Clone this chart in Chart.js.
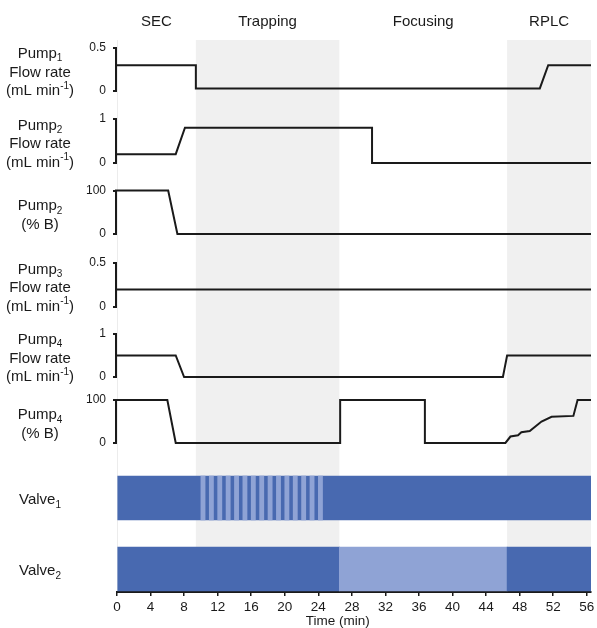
<!DOCTYPE html>
<html>
<head>
<meta charset="utf-8">
<script src="https://cdn.jsdelivr.net/npm/chart.js@4.4.1/dist/chart.umd.min.js"></script>
<style>html,body{margin:0;padding:0;background:#fff;}canvas{display:block;}</style>
</head>
<body>
<canvas id="c" width="597" height="628"></canvas>
<script>
// ---------------- DATA ----------------
const phaseNames = ['SEC', 'Trapping', 'Focusing', 'RPLC'];
const phaseStart = [0, 9.4, 26.5, 46.5];
const phaseEnd = [9.4, 26.5, 46.5, 56.5];
const phaseShaded = [false, true, false, true];

const xTicks = [0, 4, 8, 12, 16, 20, 24, 28, 32, 36, 40, 44, 48, 52, 56];

const pump1FlowTime = [0, 9.4, 9.4, 50.4, 51.4, 56.5];
const pump1FlowRate = [0.3, 0.3, 0.03, 0.03, 0.3, 0.3];
const pump1Ticks = [0, 0.5];

const pump2FlowTime = [0, 7.0, 8.1, 30.4, 30.4, 56.5];
const pump2FlowRate = [0.2, 0.2, 0.8, 0.8, 0, 0];
const pump2FlowTicks = [0, 1];

const pump2BTime = [0, 6.1, 7.2, 56.5];
const pump2B = [100, 100, 0, 0];
const pump2BTicks = [0, 100];

const pump3FlowTime = [0, 56.5];
const pump3FlowRate = [0.2, 0.2];
const pump3Ticks = [0, 0.5];

const pump4FlowTime = [0, 7.0, 8.0, 46.0, 46.5, 56.5];
const pump4FlowRate = [0.5, 0.5, 0, 0, 0.5, 0.5];
const pump4FlowTicks = [0, 1];

const pump4BTime = [0, 6.0, 7.0, 26.6, 26.6, 36.7, 36.7, 46.3, 46.9, 47.8, 48.2, 49.2, 50.6, 51.8, 54.4, 54.9, 56.5];
const pump4B = [100, 100, 0, 0, 100, 100, 0, 0, 15, 18, 25, 28, 50, 61, 63, 100, 100];
const pump4BTicks = [0, 100];

// Valve 1: base position over whole run, switched in short pulses during trapping
const valve1BaseStart = [0];
const valve1BaseEnd = [56.5];
const valve1PulseStart = [10, 11, 12, 13, 14, 15, 16, 17, 18, 19, 20, 21, 22, 23, 24];
const valve1PulseEnd = [10.5, 11.5, 12.5, 13.5, 14.5, 15.5, 16.5, 17.5, 18.5, 19.5, 20.5, 21.5, 22.5, 23.5, 24.5];

// Valve 2: position A / B / A
const valve2Start = [0, 26.5, 46.5];
const valve2End = [26.5, 46.5, 56.5];
const valve2Position = ['A', 'B', 'A'];

// ---------------- STYLE ----------------
const FONT = "'Liberation Sans', Arial, Helvetica, sans-serif";
const INK = '#1a1a1a';
const SHADE = '#f0f0f0';
const BLUE_DARK = '#4869b0';
const BLUE_LIGHT = '#8fa3d5';

function pts(t, v) { return t.map((x, i) => ({ x: x, y: v[i] })); }

function lineSet(t, v, axisId) {
  return {
    type: 'line', data: pts(t, v), xAxisID: 'x', yAxisID: axisId,
    borderColor: INK, borderWidth: 2, pointRadius: 0, fill: false, tension: 0,
    borderJoinStyle: 'miter', borderCapStyle: 'butt'
  };
}

function yAxis(weight, stackWeight, min, max, tickVals) {
  const hasTicks = tickVals.length > 0;
  return {
    type: 'linear', axis: 'y', position: 'left', stack: 'panels', stackWeight: stackWeight, weight: weight,
    min: min, max: max, offset: false,
    afterBuildTicks: s => { s.ticks = tickVals.map(v => ({ value: v })); },
    afterFit: s => { s.width = 117; },
    grid: { display: hasTicks, drawOnChartArea: false, drawTicks: true, tickLength: 4, color: INK, lineWidth: 2, offset: false },
    border: { display: false },
    ticks: { display: hasTicks, padding: 7, color: INK, font: { family: FONT, size: 12 }, callback: v => String(v) },
    _tickVals: tickVals
  };
}

const valve1Data = [];
const valve1Colors = [];
valve1BaseStart.forEach((s, i) => { valve1Data.push({ x: [s, valve1BaseEnd[i]], y: 0 }); valve1Colors.push(BLUE_DARK); });
valve1PulseStart.forEach((s, i) => { valve1Data.push({ x: [s, valve1PulseEnd[i]], y: 0 }); valve1Colors.push(BLUE_LIGHT); });

const valve2Data = valve2Start.map((s, i) => ({ x: [s, valve2End[i]], y: 0 }));
const valve2Colors = valve2Position.map(p => p === 'A' ? BLUE_DARK : BLUE_LIGHT);

function barSet(data, colors, axisId) {
  return {
    type: 'bar', indexAxis: 'y', xAxisID: 'x', yAxisID: axisId, data: data,
    backgroundColor: colors, borderWidth: 0, barThickness: 44, grouped: false
  };
}

const panelLabels = [
  { axis: 'yP1', lines: [[['Pump', 'n'], ['1', 'sub']], [['Flow rate', 'n']], [['(mL min', 'n'], ['-1', 'sup'], [')', 'n']]] },
  { axis: 'yP2F', lines: [[['Pump', 'n'], ['2', 'sub']], [['Flow rate', 'n']], [['(mL min', 'n'], ['-1', 'sup'], [')', 'n']]] },
  { axis: 'yP2B', lines: [[['Pump', 'n'], ['2', 'sub']], [['(% B)', 'n']]] },
  { axis: 'yP3', lines: [[['Pump', 'n'], ['3', 'sub']], [['Flow rate', 'n']], [['(mL min', 'n'], ['-1', 'sup'], [')', 'n']]] },
  { axis: 'yP4F', lines: [[['Pump', 'n'], ['4', 'sub']], [['Flow rate', 'n']], [['(mL min', 'n'], ['-1', 'sup'], [')', 'n']]] },
  { axis: 'yP4B', lines: [[['Pump', 'n'], ['4', 'sub']], [['(% B)', 'n']]] },
  { axis: 'yV1', lines: [[['Valve', 'n'], ['1', 'sub']]] },
  { axis: 'yV2', lines: [[['Valve', 'n'], ['2', 'sub']]] }
];

function fontFor(kind, size) {
  const s = kind === 'n' ? size : Math.round(size * 0.66);
  return s + 'px ' + FONT;
}

function drawRich(ctx, segs, cx, cy, size) {
  const widths = [];
  let total = 0;
  segs.forEach(([t, k]) => { ctx.font = fontFor(k, size); const w = ctx.measureText(t).width; widths.push(w); total += w; });
  let x = cx - total / 2;
  segs.forEach(([t, k], i) => {
    ctx.font = fontFor(k, size);
    const dy = k === 'sub' ? size * 0.32 : (k === 'sup' ? -size * 0.33 : 0);
    ctx.fillText(t, x, cy + dy);
    x += widths[i];
  });
}

const decorPlugin = {
  id: 'decor',
  beforeDraw(chart) {
    const { ctx, chartArea } = chart;
    const xs = chart.scales.x;
    ctx.save();
    ctx.fillStyle = '#fff';
    ctx.fillRect(0, 0, chart.width, chart.height);
    ctx.fillStyle = SHADE;
    phaseStart.forEach((s, i) => {
      if (!phaseShaded[i]) return;
      const x0 = xs.getPixelForValue(s), x1 = xs.getPixelForValue(phaseEnd[i]);
      ctx.fillRect(x0, chartArea.top, x1 - x0, chartArea.bottom - chartArea.top);
    });
    ctx.strokeStyle = '#ececec';
    ctx.lineWidth = 1;
    ctx.beginPath();
    ctx.moveTo(chartArea.left + 0.5, chartArea.top);
    ctx.lineTo(chartArea.left + 0.5, chartArea.bottom);
    ctx.stroke();
    ctx.restore();
  },
  afterDraw(chart) {
    const { ctx, chartArea } = chart;
    const xs = chart.scales.x;
    ctx.save();
    // y-axis brackets
    ctx.strokeStyle = INK;
    ctx.lineWidth = 2;
    ctx.lineCap = 'butt';
    Object.keys(chart.scales).forEach(id => {
      const s = chart.scales[id];
      const tv = s.options._tickVals;
      if (!tv || tv.length < 2) return;
      const y0 = s.getPixelForValue(tv[0]);
      const y1 = s.getPixelForValue(tv[tv.length - 1]);
      ctx.beginPath();
      ctx.moveTo(chartArea.left - 1, y0 + 1);
      ctx.lineTo(chartArea.left - 1, y1 - 1);
      ctx.stroke();
    });
    // phase headers
    ctx.fillStyle = INK;
    ctx.textAlign = 'center';
    ctx.textBaseline = 'middle';
    ctx.font = '15px ' + FONT;
    phaseNames.forEach((n, i) => {
      const cx = xs.getPixelForValue((phaseStart[i] + phaseEnd[i]) / 2);
      ctx.fillText(n, cx, 22);
    });
    // panel labels
    ctx.textAlign = 'left';
    panelLabels.forEach(p => {
      const s = chart.scales[p.axis];
      const tv = s.options._tickVals;
      let cy;
      if (tv.length >= 2) {
        cy = (s.getPixelForValue(tv[0]) + s.getPixelForValue(tv[tv.length - 1])) / 2 + 3;
      } else {
        cy = s.getPixelForValue(0) + 2;
      }
      const n = p.lines.length;
      const lh = 18.6;
      p.lines.forEach((segs, i) => {
        drawRich(ctx, segs, 40, cy + (i - (n - 1) / 2) * lh, 15);
      });
    });
    // x-axis title
    ctx.textAlign = 'center';
    ctx.font = '13.5px ' + FONT;
    ctx.fillText('Time (min)', xs.getPixelForValue(26.3), 621);
    ctx.restore();
  }
};

const chart = new Chart(document.getElementById('c'), {
  type: 'line',
  data: {
    datasets: [
      lineSet(pump1FlowTime, pump1FlowRate, 'yP1'),
      lineSet(pump2FlowTime, pump2FlowRate, 'yP2F'),
      lineSet(pump2BTime, pump2B, 'yP2B'),
      lineSet(pump3FlowTime, pump3FlowRate, 'yP3'),
      lineSet(pump4FlowTime, pump4FlowRate, 'yP4F'),
      lineSet(pump4BTime, pump4B, 'yP4B'),
      barSet(valve1Data, valve1Colors, 'yV1'),
      barSet(valve2Data, valve2Colors, 'yV2')
    ]
  },
  options: {
    responsive: false,
    devicePixelRatio: 1,
    animation: false,
    events: [],
    layout: { padding: { top: 40, right: 6, bottom: 0, left: 0 } },
    plugins: { legend: { display: false }, tooltip: { enabled: false } },
    scales: {
      x: {
        type: 'linear', position: 'bottom', min: 0, max: 56.5, offset: false,
        afterBuildTicks: s => { s.ticks = xTicks.map(v => ({ value: v })); },
        afterFit: s => { s.height = 36; s.paddingLeft = 0; s.paddingRight = 0; },
        grid: { display: true, drawOnChartArea: false, drawTicks: true, tickLength: 4, color: INK, lineWidth: 1.5, offset: false },
        border: { display: true, color: INK, width: 2 },
        ticks: { padding: 3, color: INK, font: { family: FONT, size: 13.5 }, maxRotation: 0, autoSkip: false, callback: v => String(v) }
      },
      yP1: yAxis(8, 65, -0.163, 0.593, pump1Ticks),
      yP2F: yAxis(7, 71.5, -0.307, 1.318, pump2FlowTicks),
      yP2B: yAxis(6, 72, -33.3, 132.2, pump2BTicks),
      yP3: yAxis(5, 72, -0.153, 0.665, pump3Ticks),
      yP4F: yAxis(4, 68, -0.267, 1.314, pump4FlowTicks),
      yP4B: yAxis(3, 71, -38.4, 126.7, pump4BTicks),
      yV1: yAxis(2, 74, -35.5, 38.5, []),
      yV2: yAxis(1, 58.5, -23, 35.5, [])
    }
  },
  plugins: [decorPlugin]
});
</script>
</body>
</html>
